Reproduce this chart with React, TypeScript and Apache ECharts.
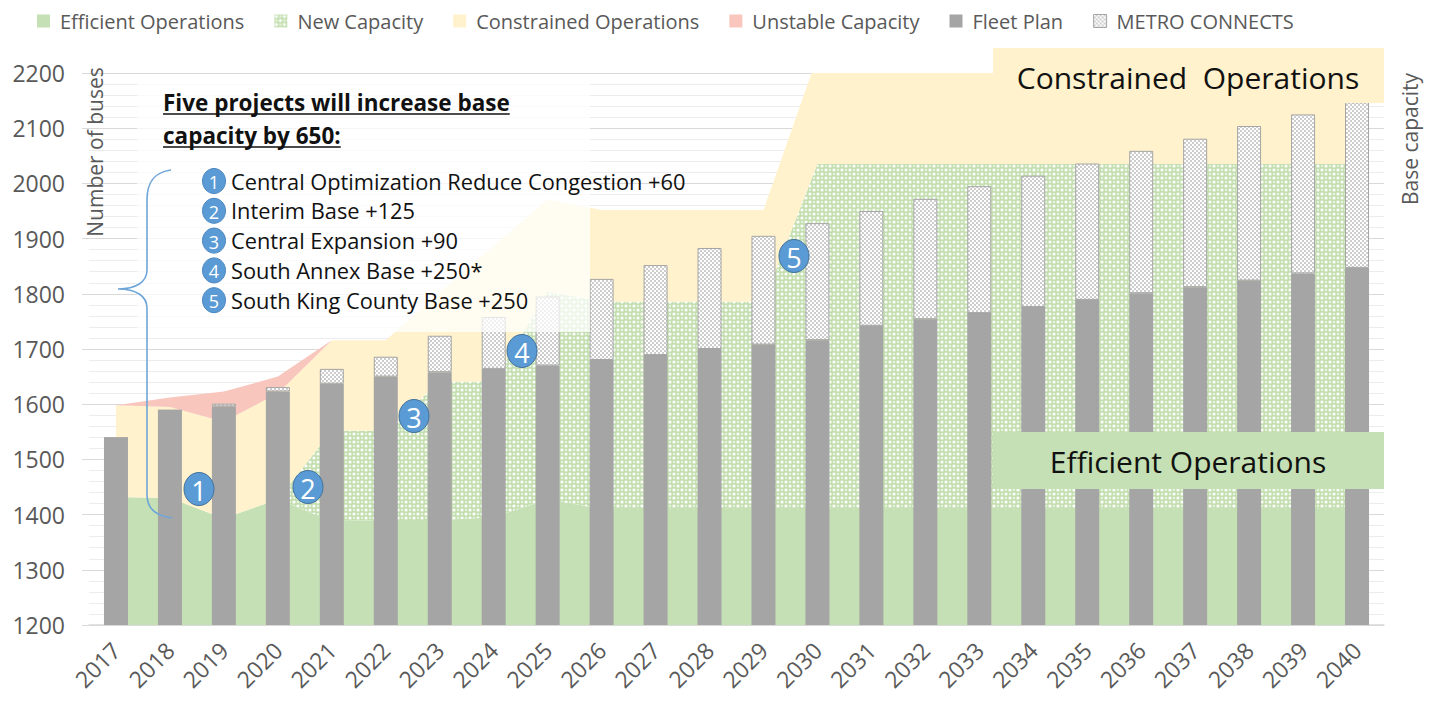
import React, { useEffect, useRef } from "react";
import * as echarts from "echarts";

const years = ["2017","2018","2019","2020","2021","2022","2023","2024","2025","2026","2027","2028","2029","2030","2031","2032","2033","2034","2035","2036","2037","2038","2039","2040"];

// upper edges of the stacked capacity bands (number of buses)
const efficientTop = [1432,1430,1393,1428,1388,1390,1390,1395,1428,1410,1410,1410,1410,1410,1410,1410,1410,1410,1410,1410,1410,1410,1410,1410];
const newCapacityTop = [null,null,null,null,1552,1552,1641,1641,1804,1786,1786,1786,1786,2035,2035,2035,2035,2035,2035,2035,2035,2035,2035,2035];
const constrainedTop = [1598,1595,1568,1620,1716,1716,1802,1887,1971,1952,1952,1952,1952,2230,2230,2230,2230,2230,2230,2230,2230,2230,2230,2230];
const unstableTop = [1598,1612,1623,1650,1716,null,null,null,null,null,null,null,null,null,null,null,null,null,null,null,null,null,null,null];

// bars
const fleetPlan = [1539,1589,1596,1623,1637,1650,1658,1664,1670,1680,1689,1700,1708,1716,1742,1754,1765,1776,1789,1801,1812,1824,1837,1847];
const metroConnects = [0,0,5,8,27,36,66,94,125,147,163,183,197,212,208,218,230,238,247,258,269,280,288,300];

const yMin = 1200;
const yMax = 2200;
const yInterval = 100;

const legendNames = ["Efficient Operations","New Capacity","Constrained Operations","Unstable Capacity","Fleet Plan","METRO CONNECTS"];
const headingLines = ["Five projects will increase base","capacity by 650:"];
const projects = ["Central Optimization Reduce Congestion +60","Interim Base +125","Central Expansion +90","South Annex Base +250*","South King County Base +250"];

const FONT = "'Open Sans', 'Noto Sans', sans-serif";

function makePattern(kind: "green" | "dots") {
  const c = document.createElement("canvas");
  const s = kind === "green" ? 8 : 4;
  c.width = s; c.height = s;
  const ctx = c.getContext("2d")!;
  if (kind === "green") {
    ctx.fillStyle = "#c3dfb0";
    ctx.fillRect(0, 0, s, s);
    ctx.fillStyle = "#ffffff";
    ctx.beginPath(); ctx.arc(2, 2, 1.6, 0, Math.PI * 2); ctx.fill();
    ctx.beginPath(); ctx.arc(6, 6, 1.6, 0, Math.PI * 2); ctx.fill();
    ctx.fillStyle = "#e8f3e0";
    ctx.fillRect(5, 1, 2, 2);
    ctx.fillRect(1, 5, 2, 2);
  } else {
    ctx.fillStyle = "#cdcdcd";
    ctx.fillRect(0, 0, s, s);
    ctx.fillStyle = "#ffffff";
    ctx.fillRect(0, 0, 2, 2);
    ctx.fillRect(2, 2, 2, 2);
  }
  return { image: c as any, repeat: "repeat", imageWidth: s, imageHeight: s } as any;
}

function measure(text: string, font: string) {
  const c = document.createElement("canvas");
  const ctx = c.getContext("2d")!;
  ctx.font = font;
  return ctx.measureText(text).width;
}

export default function App() {
  const ref = useRef<HTMLDivElement>(null);
  useEffect(() => {
    document.body.style.margin = "0";
    if (!ref.current) return;
    const chart = echarts.init(ref.current, undefined, { renderer: "svg" });

    const greenPat = makePattern("green");
    const dotPat = makePattern("dots");

    const efficient = efficientTop;
    const newCap = newCapacityTop.map((v, i) => (v == null ? 0 : v - efficientTop[i]));
    const constrained = constrainedTop.map((v, i) => v - (newCapacityTop[i] ?? efficientTop[i]));
    const unstable = unstableTop.map((v, i) => (v == null ? 0 : v - constrainedTop[i]));

    const areaSeries = (name: string, data: number[], color: any) => ({
      name,
      type: "line",
      stack: "capacity",
      data,
      symbol: "none",
      showSymbol: false,
      lineStyle: { width: 0 },
      itemStyle: { color },
      areaStyle: { color, opacity: 1 },
      z: 1,
    });

    const headingFont = `bold 22.5px ${FONT}`;
    const graphics: any[] = [];

    // translucent text box
    graphics.push({ type: "rect", z: 50, shape: { x: 137, y: 76, width: 453, height: 256 }, style: { fill: "rgba(255,255,255,0.72)" } });

    // heading
    headingLines.forEach((t, i) => {
      const y = 102 + i * 33;
      graphics.push({ type: "text", z: 60, x: 163, y, style: { text: t, font: headingFont, fill: "#111", textAlign: "left", textVerticalAlign: "middle" } });
      const w = measure(t, headingFont);
      graphics.push({ type: "line", z: 60, shape: { x1: 163, y1: y + 12, x2: 163 + w, y2: y + 12 }, style: { stroke: "#111", lineWidth: 1.4 } });
    });

    // project list
    projects.forEach((t, i) => {
      const y = 181 + i * 29.8;
      graphics.push({ type: "ellipse", z: 60, shape: { cx: 214, cy: y, rx: 11.5, ry: 12.5 }, style: { fill: "#5b9bd5", stroke: "#4a86c0", lineWidth: 1 } });
      graphics.push({ type: "text", z: 61, x: 214, y: y + 1, style: { text: String(i + 1), font: `18px ${FONT}`, fill: "#fff", textAlign: "center", textVerticalAlign: "middle" } });
      graphics.push({ type: "text", z: 60, x: 231, y, style: { text: t, font: `21.8px ${FONT}`, fill: "#111", textAlign: "left", textVerticalAlign: "middle" } });
    });

    // brace
    echarts.graphic.registerShape(
      "brace",
      (echarts.graphic as any).extendPath(
        "M171,170 C156,172 147,180 147,200 L147,270 C147,282 136,289 118,289 C136,289 147,296 147,308 L147,495 C147,508 156,516 172,518",
        {}
      )
    );
    graphics.push({ type: "brace", z: 55, x: 0, y: 0, scaleX: 1, scaleY: 1, style: { fill: "none", stroke: "#6fa6da", lineWidth: 1.6 } });

    // numbered markers on the chart
    const markers = [
      [199, 489, "1"],
      [308, 487, "2"],
      [414, 416, "3"],
      [522, 351, "4"],
      [794, 256, "5"],
    ] as const;
    markers.forEach(([x, y, t]) => {
      graphics.push({ type: "ellipse", z: 60, shape: { cx: x, cy: y, rx: 15, ry: 16.5 }, style: { fill: "#5b9bd5", stroke: "#41719c", lineWidth: 1 } });
      graphics.push({ type: "text", z: 61, x, y: y + 1, style: { text: t, font: `27px ${FONT}`, fill: "#fff", textAlign: "center", textVerticalAlign: "middle" } });
    });

    // band labels
    graphics.push({ type: "rect", z: 50, shape: { x: 993, y: 48, width: 391, height: 55 }, style: { fill: "#fff2cc" } });
    graphics.push({ type: "text", z: 60, x: 1188, y: 77, style: { text: "Constrained  Operations", font: `30px ${FONT}`, fill: "#111", textAlign: "center", textVerticalAlign: "middle" } });
    graphics.push({ type: "rect", z: 50, shape: { x: 993, y: 432, width: 391, height: 57 }, style: { fill: "#c5e0b4" } });
    graphics.push({ type: "text", z: 60, x: 1188, y: 461, style: { text: "Efficient Operations", font: `30px ${FONT}`, fill: "#111", textAlign: "center", textVerticalAlign: "middle" } });

    // axis titles
    graphics.push({ type: "text", z: 60, x: 95, y: 152, rotation: Math.PI / 2, style: { text: "Number of buses", font: `21px ${FONT}`, fill: "#595959", textAlign: "center", textVerticalAlign: "middle" } });
    graphics.push({ type: "text", z: 60, x: 1410, y: 139, rotation: Math.PI / 2, style: { text: "Base capacity", font: `21px ${FONT}`, fill: "#595959", textAlign: "center", textVerticalAlign: "middle" } });

    const legendColors: any[] = ["#c5e0b4", greenPat, "#fff2cc", "#f8c6bd", "#a5a5a5", dotPat];

    chart.setOption({
      animation: false,
      backgroundColor: "#ffffff",
      textStyle: { fontFamily: FONT },
      legend: {
        left: 32,
        top: 6,
        itemWidth: 13,
        itemHeight: 13,
        itemGap: 30,
        icon: "rect",
        textStyle: { fontSize: 20, color: "#595959", fontFamily: FONT, padding: [0, 0, 0, 5] },
        data: legendNames.map((n, i) => ({
          name: n,
          itemStyle: { color: legendColors[i], borderColor: i === 5 ? "#a5a5a5" : undefined, borderWidth: i === 5 ? 1 : 0 },
        })),
      },
      grid: { left: 89, right: 56, top: 73, bottom: 79 },
      xAxis: {
        type: "category",
        data: years,
        boundaryGap: true,
        axisTick: { show: false },
        axisLine: { lineStyle: { color: "#d9d9d9", width: 1.5 } },
        axisLabel: { rotate: 45, fontSize: 23, color: "#595959", margin: 21, interval: 0, fontFamily: FONT },
      },
      yAxis: {
        type: "value",
        min: yMin,
        max: yMax,
        interval: yInterval,
        axisLine: { show: false },
        axisTick: { show: true, length: 7, lineStyle: { color: "#d9d9d9" } },
        axisLabel: { fontSize: 23, color: "#595959", margin: 24, fontFamily: FONT, formatter: (v: number) => String(v) },
        splitLine: { lineStyle: { color: "#d9d9d9", width: 1 } },
        minorTick: { show: false, splitNumber: 5 },
        minorSplitLine: { show: true, lineStyle: { color: "#ececec", width: 1 } },
      },
      series: [
        areaSeries(legendNames[0], efficient, "#c5e0b4"),
        areaSeries(legendNames[1], newCap, greenPat),
        areaSeries(legendNames[2], constrained, "#fff2cc"),
        areaSeries(legendNames[3], unstable, "#f8c6bd"),
        {
          name: legendNames[4],
          type: "bar",
          stack: "fleet",
          data: fleetPlan,
          barWidth: 24,
          itemStyle: { color: "#a5a5a5" },
          z: 3,
        },
        {
          name: legendNames[5],
          type: "bar",
          stack: "fleet",
          data: metroConnects,
          barWidth: 24,
          itemStyle: { color: dotPat, borderColor: "#a5a5a5", borderWidth: 1 },
          z: 3,
        },
      ],
      graphic: { elements: graphics },
    });

    return () => chart.dispose();
  }, []);
  return <div ref={ref} style={{ width: 1440, height: 704 }} />;
}
